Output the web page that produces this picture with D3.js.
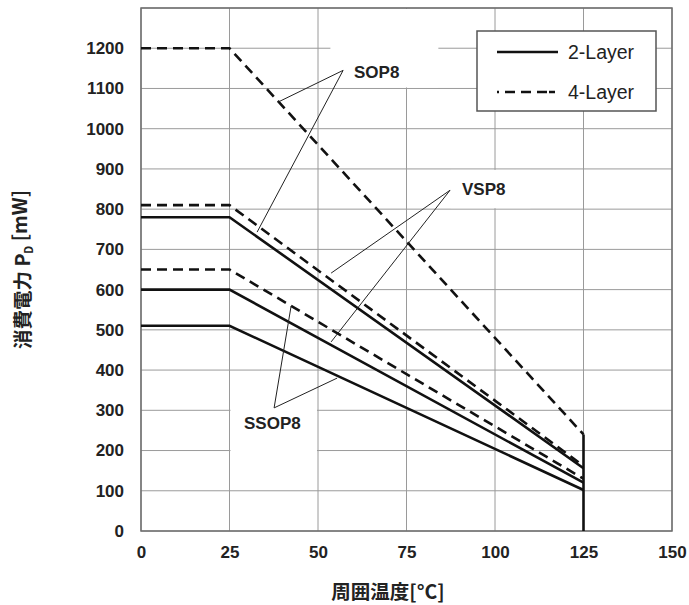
<!DOCTYPE html>
<html><head><meta charset="utf-8">
<script src="https://cdn.jsdelivr.net/npm/d3@7"></script>
<style>
body{margin:0;background:#fff;}
svg{display:block;}
</style></head>
<body>
<svg id="chart" width="689" height="605"></svg>
<script>
// Data
const xTicks = [0, 25, 50, 75, 100, 125, 150];
const yTicks = [0,100,200,300,400,500,600,700,800,900,1000,1100,1200];
const tempPoints = [0, 25, 125];
const seriesNames = ["SOP8 4-Layer","VSP8 4-Layer","SOP8 2-Layer","SSOP8 4-Layer","VSP8 2-Layer","SSOP8 2-Layer"];
const seriesLayers = ["4-Layer","4-Layer","2-Layer","4-Layer","2-Layer","2-Layer"];
const sop8_4 = [1200, 1200, 240];
const vsp8_4 = [810, 810, 162];
const sop8_2 = [780, 780, 156];
const ssop8_4 = [650, 650, 130];
const vsp8_2 = [600, 600, 120];
const ssop8_2 = [510, 510, 102];
const seriesValues = [sop8_4, vsp8_4, sop8_2, ssop8_4, vsp8_2, ssop8_2];
const cutoffTemp = 125;
const cutoffTop = 240;
const legendLabels = ["2-Layer", "4-Layer"];
// annotation: label, tip [x,y], targets
const annLabels = ["SOP8", "VSP8", "SSOP8"];
const annTips = [[57.1, 1145], [87.3, 847], [37.6, 306]];
const annTargets = [[[38.7, 1066], [32.8, 743]], [[53.7, 641], [53.7, 470]], [[42.4, 559], [55.4, 380]]];

const svg = d3.select("#chart");
const x = d3.scaleLinear().domain([0,150]).range([141,672]);
const y = d3.scaleLinear().domain([0,1300]).range([531,8]);
const FONT = "'Liberation Sans', Arial, sans-serif";

// grid
const g = svg.append("g");
g.selectAll(".vg").data(xTicks).join("line")
  .attr("x1", d=>x(d)).attr("x2", d=>x(d)).attr("y1", y(0)).attr("y2", y(1300))
  .attr("stroke", "#9a9a9a").attr("stroke-width", 1);
g.selectAll(".hg").data(yTicks.concat([1300])).join("line")
  .attr("x1", x(0)).attr("x2", x(150)).attr("y1", d=>y(d)).attr("y2", d=>y(d))
  .attr("stroke", "#9a9a9a").attr("stroke-width", 1);

// white label boxes covering grid
const boxes = [[x(53.5), y(1300)+1, x(84), y(1100)-1], [x(87.5), y(900)+1, x(110), y(800)-1], [x(25)+1, y(300)-4, x(50)-1, y(200)+2]];
svg.selectAll(".box").data(boxes).join("rect")
  .attr("x", d=>d[0]).attr("y", d=>d[1]).attr("width", d=>d[2]-d[0]).attr("height", d=>d[3]-d[1])
  .attr("fill", "#fff");

// border
svg.append("rect").attr("x", x(0)).attr("y", y(1300)).attr("width", x(150)-x(0)).attr("height", y(0)-y(1300))
  .attr("fill", "none").attr("stroke", "#6e6e6e").attr("stroke-width", 1.5);

// axes tick labels
const yAxis = d3.axisLeft(y).tickValues(yTicks).tickFormat(d3.format("d")).tickSize(0).tickPadding(17);
const ya = svg.append("g").attr("transform", `translate(${x(0)},0)`).call(yAxis);
ya.select(".domain").remove();
ya.selectAll("text").attr("font-family", FONT).attr("font-size", 17).attr("font-weight", "bold").attr("fill", "#222");
const xAxis = d3.axisBottom(x).tickValues(xTicks).tickFormat(d3.format("d")).tickSize(0).tickPadding(15);
const xa = svg.append("g").attr("transform", `translate(0,${y(0)})`).call(xAxis);
xa.select(".domain").remove();
xa.selectAll("text").attr("font-family", FONT).attr("font-size", 17).attr("font-weight", "bold").attr("fill", "#222");

// lines
const line = d3.line().x((d,i)=>x(tempPoints[i])).y(d=>y(d));
svg.selectAll(".series").data(seriesValues).join("path")
  .attr("d", d=>line(d))
  .attr("fill", "none").attr("stroke", "#111").attr("stroke-width", 2.6)
  .attr("stroke-dasharray", (d,i)=>seriesLayers[i]==="4-Layer" ? "10,6" : null);
svg.append("line").attr("x1", x(cutoffTemp)).attr("x2", x(cutoffTemp)).attr("y1", y(cutoffTop)).attr("y2", y(0))
  .attr("stroke", "#111").attr("stroke-width", 2.6);

// annotations
annLabels.forEach((lab, i) => {
  const tip = annTips[i];
  annTargets[i].forEach(t => {
    svg.append("line").attr("x1", x(tip[0])).attr("y1", y(tip[1])).attr("x2", x(t[0])).attr("y2", y(t[1]))
      .attr("stroke", "#222").attr("stroke-width", 1);
  });
});
const annTextPos = [[354, 72], [462, 189], [244, 423]];
svg.selectAll(".ann").data(annLabels).join("text")
  .attr("x", (d,i)=>annTextPos[i][0]).attr("y", (d,i)=>annTextPos[i][1])
  .attr("dy", "0.35em").attr("font-family", FONT).attr("font-size", 17).attr("font-weight", "bold").attr("fill", "#222")
  .text(d=>d);

// legend
const lg = svg.append("g");
lg.append("rect").attr("x", 477).attr("y", 31).attr("width", 179).attr("height", 80)
  .attr("fill", "#fff").attr("stroke", "#555").attr("stroke-width", 1.5);
legendLabels.forEach((lab, i) => {
  const ly = 52 + i*40;
  lg.append("line").attr("x1", 497).attr("x2", 558).attr("y1", ly).attr("y2", ly)
    .attr("stroke", "#111").attr("stroke-width", 2.6)
    .attr("stroke-dasharray", lab==="4-Layer" ? "2,6,10,6,10,6,10" : null);
  lg.append("text").attr("x", 568).attr("y", ly).attr("dy", "0.35em")
    .attr("font-family", FONT).attr("font-size", 19.5).attr("fill", "#222").text(lab);
});

// axis titles
const yt = svg.append("text").attr("transform", `translate(23,${(y(0)+y(1300))/2}) rotate(-90)`)
  .attr("text-anchor", "middle").attr("dy", "0.35em")
  .attr("font-family", "'Noto Sans CJK JP', sans-serif").attr("font-size", 19.5).attr("font-weight", "bold").attr("fill", "#222");
yt.append("tspan").text("消費電力 P");
yt.append("tspan").attr("font-size", 11).attr("dy", "0.3em").text("D");
yt.append("tspan").attr("dy", "-0.3em").text(" [mW]");
svg.append("text").attr("x", 388).attr("y", 592).attr("text-anchor", "middle").attr("dy", "0.35em")
  .attr("font-family", "'Noto Sans CJK JP', sans-serif").attr("font-size", 19.5).attr("font-weight", "bold").attr("fill", "#222")
  .text("周囲温度[°C]");
</script>
</body></html>
